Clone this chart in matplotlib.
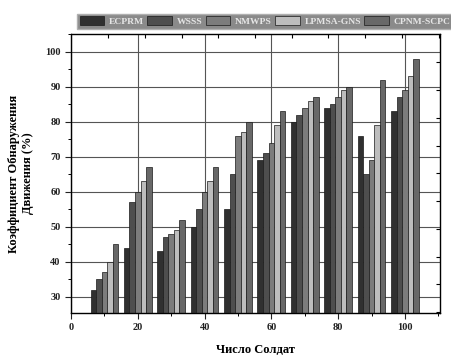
import numpy as np
import matplotlib
matplotlib.use("Agg")
import matplotlib.pyplot as plt
from matplotlib.ticker import MultipleLocator

plt.rcParams["font.family"] = ["Liberation Serif", "DejaVu Serif"]
plt.rcParams["font.weight"] = "bold"

soldiers = [10, 20, 30, 40, 50, 60, 70, 80, 90, 100]
methods = ["ECPRM", "WSSS", "NMWPS", "LPMSA-GNS", "CPNM-SCPC"]
ecprm = [32, 44, 43, 50, 55, 69, 80, 84, 76, 83]
wsss = [35, 57, 47, 55, 65, 71, 82, 85, 65, 87]
nmwps = [37, 60, 48, 60, 76, 74, 84, 87, 69, 89]
lpmsa_gns = [40, 63, 49, 63, 77, 79, 86, 89, 79, 93]
cpnm_scpc = [45, 67, 52, 67, 80, 83, 87, 90, 92, 98]

series = [ecprm, wsss, nmwps, lpmsa_gns, cpnm_scpc]
colors = ["#303030", "#4e4e4e", "#7c7c7c", "#bdbdbd", "#686868"]

fig = plt.figure(figsize=(4.51, 3.58), dpi=100)
ax = fig.add_axes([0.1574, 0.1257, 0.8182, 0.7793])

width = 1.66
x = np.array(soldiers, dtype=float)
for i, (vals, c, name) in enumerate(zip(series, colors, methods)):
    ax.bar(x + (i - 2) * width, vals, width=width, color=c,
           edgecolor="#1a1a1a", linewidth=0.5, label=name, zorder=2)

ax.set_xlim(0, 110.5)
ax.set_ylim(25.3, 105)
ax.set_xticks([0, 20, 40, 60, 80, 100])
ax.xaxis.set_minor_locator(MultipleLocator(10))
ax.set_yticks(range(30, 101, 10))
ax.yaxis.set_minor_locator(MultipleLocator(5))
ax.grid(True, which="major", color="#555555", linewidth=0.8, zorder=0)
ax.set_axisbelow(True)
ax.tick_params(which="major", direction="out", length=4, width=0.8,
               labelsize=7.5, colors="#222222")
ax.tick_params(which="minor", direction="out", length=2.5, width=0.7)
for lab in ax.get_xticklabels() + ax.get_yticklabels():
    lab.set_fontweight("bold")
for s in ax.spines.values():
    s.set_color("#333333")
    s.set_linewidth(0.9)

# secondary ticks on the top and right spines
axt = ax.twiny()
axt.set_xlim(0, 369)
axt.set_xticks([37.3 + 36.7 * k for k in range(10)])
axt.tick_params(direction="in", length=3, labeltop=False)
axr = ax.twinx()
axr.set_ylim(0, 279)
axr.set_yticks([279 - (28.3 + 27.75 * k) for k in range(10)])
axr.tick_params(direction="in", length=3, labelright=False)

ax.set_xlabel("Число Солдат", fontsize=9, fontweight="bold", labelpad=8)
ax.set_ylabel("Коэффициент Обнаружения\nДвижения (%)", fontsize=9,
              fontweight="bold", labelpad=8)

h, l = ax.get_legend_handles_labels()
leg = fig.legend(h, l, loc="lower left", bbox_to_anchor=(0.17, 0.919, 0.835, 0.055),
                 mode="expand", ncol=5, fontsize=6.8, frameon=True, fancybox=False,
                 facecolor="#8a8a8a", edgecolor="#b0b0b0", framealpha=1,
                 handlelength=2.6, handleheight=1.1, columnspacing=0.5,
                 handletextpad=0.5, borderpad=0.3, borderaxespad=0)
for t in leg.get_texts():
    t.set_color("#e6e6e6")
    t.set_fontweight("bold")

fig.savefig("out.png", dpi=100)
